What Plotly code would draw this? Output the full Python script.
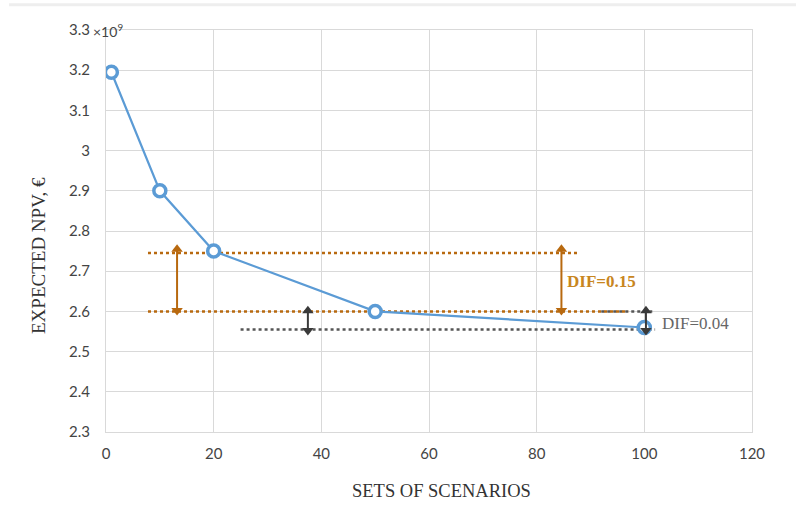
import plotly.graph_objects as go

# Expected NPV versus number of scenario sets
sets = [1, 10, 20, 50, 100]
npv = [3.195e9, 2.90e9, 2.75e9, 2.60e9, 2.56e9]

y_ticks = [2.3e9, 2.4e9, 2.5e9, 2.6e9, 2.7e9, 2.8e9, 2.9e9, 3.0e9, 3.1e9, 3.2e9, 3.3e9]
y_tick_text = ["2.3", "2.4", "2.5", "2.6", "2.7", "2.8", "2.9", "3", "3.1", "3.2", "3.3"]
y_exponent = "×10<sup>9</sup>"
x_ticks = [0, 20, 40, 60, 80, 100, 120]

# Reference levels used for the difference markers
level_high = 2.745e9
level_mid = 2.60e9
level_low = 2.555e9
dif_big = "DIF=0.15"
dif_small = "DIF=0.04"
x_title = "SETS OF SCENARIOS"
y_title = "EXPECTED NPV, €"

ORANGE = "#B8690F"
ORANGE_TXT = "#C8861E"
DARK = "#3A3A3A"
BLUE = "#5B9BD5"
SERIF = "Liberation Serif, serif"
SANS = "Lato, Open Sans, sans-serif"

W, H = 796, 524
L, R, T, B = 106, 44, 30, 92
pw, ph = W - L - R, H - T - B

fig = go.Figure()

def dotted(x0, x1, y, color):
    fig.add_trace(go.Scatter(x=[x0, x1], y=[y, y], mode="lines",
                             line=dict(color=color, width=2.5, dash="dot"),
                             hoverinfo="skip", showlegend=False))

dotted(7.8, 88, level_high, ORANGE)
dotted(25, 102, level_low, "#555555")
dotted(92, 102, level_mid, "#555555")
dotted(7.8, 97, level_mid, ORANGE)

fig.add_trace(go.Scatter(
    x=sets, y=npv, mode="lines+markers",
    line=dict(color=BLUE, width=2.2),
    marker=dict(symbol="circle", size=12, color="white",
                line=dict(color=BLUE, width=3.5)),
    showlegend=False, hoverinfo="skip"))

def double_arrow(x, y0, y1, color, head):
    # shaft plus a triangular head at each end; y0/y1 are the tip positions
    inset = head * 0.42 / 402 * 1e9
    fig.add_trace(go.Scatter(x=[x, x], y=[y0 + inset, y1 - inset], mode="lines",
                             line=dict(color=color, width=2),
                             hoverinfo="skip", showlegend=False))
    fig.add_trace(go.Scatter(x=[x, x], y=[y1 - inset, y0 + inset], mode="markers",
                             marker=dict(symbol=["triangle-up", "triangle-down"], size=head,
                                         color=color, line=dict(width=0)),
                             hoverinfo="skip", showlegend=False))

double_arrow(13.2, 2.592e9, 2.765e9, ORANGE, 10)
double_arrow(84.6, 2.592e9, 2.765e9, ORANGE, 10)
double_arrow(37.5, 2.542e9, 2.612e9, DARK, 10)
double_arrow(100.3, 2.542e9, 2.612e9, DARK, 10)

fig.add_annotation(x=85.2, y=2.675e9, xref="x", yref="y", text="<b>" + dif_big + "</b>",
                   showarrow=False, xanchor="left",
                   font=dict(family=SERIF, size=17, color=ORANGE_TXT))
fig.add_annotation(x=103.0, y=2.571e9, xref="x", yref="y", text=dif_small,
                   showarrow=False, xanchor="left",
                   font=dict(family=SERIF, size=17, color="#666666"))

def px_annotation(px, py, text, font, xanchor="center", yanchor="middle", **kw):
    fig.add_annotation(x=(px - L) / pw, y=1 - (py - T) / ph, xref="paper", yref="paper",
                       text=text, showarrow=False, font=font,
                       xanchor=xanchor, yanchor=yanchor, **kw)

# axis titles and the exponent of the value axis
px_annotation(441, 491, x_title, dict(family=SERIF, size=18.5, color="#333333"))
px_annotation(38, 256, y_title, dict(family=SERIF, size=19, color="#333333"), textangle=-90)
px_annotation(91, 30, y_exponent, dict(family=SANS, size=14, color="#444444"),
              xanchor="left")

# faint rule along the top of the page
fig.add_shape(type="line", xref="paper", yref="paper", x0=-0.15, x1=1.1,
              y0=1.063, y1=1.063, line=dict(color="#EEEEEE", width=3))

fig.update_layout(
    width=W, height=H,
    margin=dict(l=L, r=R, t=T, b=B),
    paper_bgcolor="white", plot_bgcolor="white",
    font=dict(family=SANS, color="#444444", size=15),
    xaxis=dict(range=[0, 120], tickvals=x_ticks, showgrid=True,
               gridcolor="#D9D9D9", gridwidth=1, showline=True,
               linecolor="#D9D9D9", mirror=True, zeroline=False,
               ticks="outside", ticklen=8, tickcolor="rgba(0,0,0,0)"),
    yaxis=dict(range=[2.3e9, 3.3e9], tickvals=y_ticks, ticktext=y_tick_text,
               showgrid=True, gridcolor="#D9D9D9", gridwidth=1, showline=True,
               linecolor="#D9D9D9", mirror=True, zeroline=False,
               ticks="outside", ticklen=12, tickcolor="rgba(0,0,0,0)"),
)

fig.write_html("out.html")
